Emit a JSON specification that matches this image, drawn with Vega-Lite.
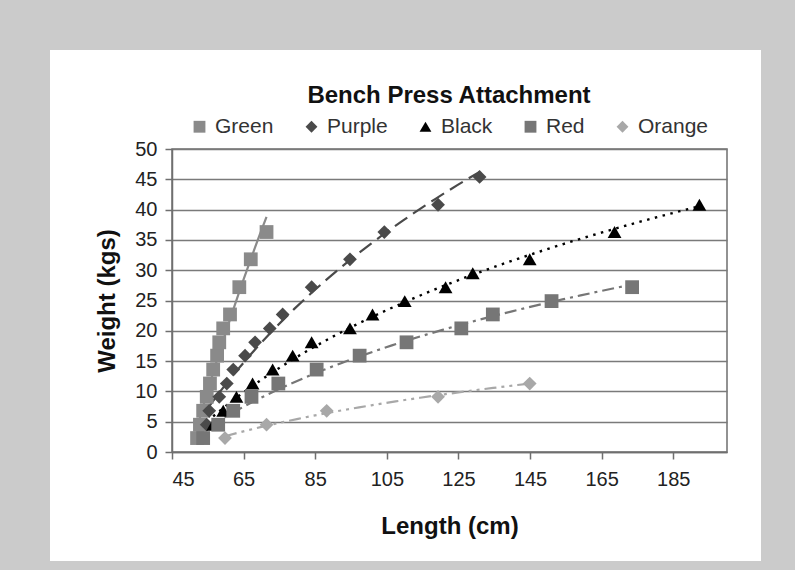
{
  "$schema": "https://vega.github.io/schema/vega-lite/v6.json",
  "width": 555,
  "height": 303,
  "autosize": {"type": "none"},
  "padding": {"left": 172, "top": 149, "right": 68, "bottom": 118},
  "background": "white",
  "config": {
    "font": "Liberation Sans",
    "view": {"stroke": "#6f6f6f", "strokeWidth": 1.5},
    "axis": {
      "labelFont": "Liberation Sans",
      "labelFontSize": 20,
      "labelColor": "#222222",
      "titleFont": "Liberation Sans",
      "titleFontSize": 24,
      "titleFontWeight": "bold",
      "titleColor": "#111111",
      "domainColor": "#6f6f6f",
      "domainWidth": 1.5,
      "tickColor": "#6f6f6f",
      "tickWidth": 1.5,
      "tickSize": 7,
      "labelPadding": 8
    },
    "legend": {
      "titleFont": "Liberation Sans",
      "labelFont": "Liberation Sans"
    }
  },
  "data": {
    "values": [
      {"series": "Green", "length": 52.0, "weight": 2.3},
      {"series": "Green", "length": 52.8, "weight": 4.5},
      {"series": "Green", "length": 53.7, "weight": 6.8},
      {"series": "Green", "length": 54.7, "weight": 9.1},
      {"series": "Green", "length": 55.6, "weight": 11.3},
      {"series": "Green", "length": 56.5, "weight": 13.6},
      {"series": "Green", "length": 57.6, "weight": 15.9},
      {"series": "Green", "length": 58.2, "weight": 18.1},
      {"series": "Green", "length": 59.3, "weight": 20.4},
      {"series": "Green", "length": 61.2, "weight": 22.7},
      {"series": "Green", "length": 63.8, "weight": 27.2},
      {"series": "Green", "length": 67.0, "weight": 31.8},
      {"series": "Green", "length": 71.4, "weight": 36.3},
      {"series": "Purple", "length": 54.7, "weight": 4.5},
      {"series": "Purple", "length": 55.4, "weight": 6.8},
      {"series": "Purple", "length": 58.2, "weight": 9.1},
      {"series": "Purple", "length": 60.3, "weight": 11.3},
      {"series": "Purple", "length": 62.1, "weight": 13.6},
      {"series": "Purple", "length": 65.4, "weight": 15.9},
      {"series": "Purple", "length": 68.2, "weight": 18.1},
      {"series": "Purple", "length": 72.3, "weight": 20.4},
      {"series": "Purple", "length": 75.9, "weight": 22.7},
      {"series": "Purple", "length": 84.0, "weight": 27.2},
      {"series": "Purple", "length": 94.7, "weight": 31.8},
      {"series": "Purple", "length": 104.3, "weight": 36.3},
      {"series": "Purple", "length": 119.3, "weight": 40.8},
      {"series": "Purple", "length": 130.9, "weight": 45.4},
      {"series": "Black", "length": 56.5, "weight": 4.5},
      {"series": "Black", "length": 59.3, "weight": 6.8},
      {"series": "Black", "length": 63.0, "weight": 9.1},
      {"series": "Black", "length": 67.5, "weight": 11.3},
      {"series": "Black", "length": 73.1, "weight": 13.6},
      {"series": "Black", "length": 78.7, "weight": 15.9},
      {"series": "Black", "length": 84.0, "weight": 18.1},
      {"series": "Black", "length": 94.7, "weight": 20.4},
      {"series": "Black", "length": 101.0, "weight": 22.7},
      {"series": "Black", "length": 110.0, "weight": 24.9},
      {"series": "Black", "length": 121.4, "weight": 27.2},
      {"series": "Black", "length": 129.0, "weight": 29.5},
      {"series": "Black", "length": 144.9, "weight": 31.8},
      {"series": "Black", "length": 168.6, "weight": 36.3},
      {"series": "Black", "length": 192.3, "weight": 40.8},
      {"series": "Red", "length": 53.7, "weight": 2.3},
      {"series": "Red", "length": 57.9, "weight": 4.5},
      {"series": "Red", "length": 62.1, "weight": 6.8},
      {"series": "Red", "length": 67.2, "weight": 9.1},
      {"series": "Red", "length": 74.7, "weight": 11.3},
      {"series": "Red", "length": 85.4, "weight": 13.6},
      {"series": "Red", "length": 97.4, "weight": 15.9},
      {"series": "Red", "length": 110.5, "weight": 18.1},
      {"series": "Red", "length": 125.8, "weight": 20.4},
      {"series": "Red", "length": 134.6, "weight": 22.7},
      {"series": "Red", "length": 151.0, "weight": 24.9},
      {"series": "Red", "length": 173.5, "weight": 27.2},
      {"series": "Orange", "length": 59.8, "weight": 2.3},
      {"series": "Orange", "length": 71.4, "weight": 4.5},
      {"series": "Orange", "length": 88.2, "weight": 6.8},
      {"series": "Orange", "length": 119.3, "weight": 9.1},
      {"series": "Orange", "length": 144.9, "weight": 11.3}
    ]
  },
  "encoding": {
    "x": {
      "field": "length",
      "type": "quantitative",
      "scale": {"domain": [45, 200], "nice": false, "zero": false},
      "axis": {
        "values": [45, 65, 85, 105, 125, 145, 165, 185],
        "grid": false,
        "title": "Length (cm)",
        "labelPadding": 10,
        "titlePadding": 25
      }
    },
    "y": {
      "field": "weight",
      "type": "quantitative",
      "scale": {"domain": [0, 50], "nice": false},
      "axis": {
        "values": [0, 5, 10, 15, 20, 25, 30, 35, 40, 45, 50],
        "grid": true,
        "gridColor": "#7a7a7a",
        "gridWidth": 1.5,
        "title": "Weight (kgs)",
        "titlePadding": 15
      }
    }
  },
  "layer": [
    {
      "transform": [
        {"filter": "datum.series === 'Green'"},
        {"regression": "weight", "on": "length", "method": "log"}
      ],
      "mark": {"type": "line", "strokeWidth": 2.2, "stroke": "#8a8a8a"},
      "encoding": {}
    },
    {
      "transform": [
        {"filter": "datum.series === 'Purple'"},
        {"regression": "weight", "on": "length", "method": "log"}
      ],
      "mark": {"type": "line", "strokeWidth": 2.2, "stroke": "#4a4a4a", "strokeDash": [15, 7]},
      "encoding": {}
    },
    {
      "transform": [
        {"filter": "datum.series === 'Black'"},
        {"regression": "weight", "on": "length", "method": "log"}
      ],
      "mark": {"type": "line", "strokeWidth": 2.4, "stroke": "#000000", "strokeDash": [2.5, 5.5]},
      "encoding": {}
    },
    {
      "transform": [
        {"filter": "datum.series === 'Red'"},
        {"regression": "weight", "on": "length", "method": "log"}
      ],
      "mark": {"type": "line", "strokeWidth": 2.2, "stroke": "#767676", "strokeDash": [12, 5, 3, 5]},
      "encoding": {}
    },
    {
      "transform": [
        {"filter": "datum.series === 'Orange'"},
        {"regression": "weight", "on": "length", "method": "log"}
      ],
      "mark": {"type": "line", "strokeWidth": 2.2, "stroke": "#a8a8a8", "strokeDash": [12, 5, 3, 5, 3, 5]},
      "encoding": {}
    },
    {
      "mark": {"type": "point", "filled": true, "opacity": 1, "strokeWidth": 0, "size": 190},
      "encoding": {
        "color": {
          "field": "series",
          "type": "nominal",
          "scale": {
            "domain": ["Green", "Purple", "Black", "Red", "Orange"],
            "range": ["#8a8a8a", "#4a4a4a", "#000000", "#767676", "#a8a8a8"]
          },
          "legend": {
            "title": "Bench Press Attachment",
            "orient": "none",
            "legendX": 17,
            "legendY": -65,
            "direction": "horizontal",
            "columns": 5,
            "titleAnchor": "middle",
            "titleFontSize": 24,
            "titleFontWeight": "bold",
            "titleColor": "#111111",
            "titleLimit": 700,
            "titlePadding": 8,
            "labelFontSize": 21,
            "labelColor": "#333333",
            "labelOffset": 5,
            "labelLimit": 200,
            "columnPadding": 27,
            "symbolSize": 140,
            "symbolStrokeWidth": 0,
            "padding": 0
          }
        },
        "shape": {
          "field": "series",
          "type": "nominal",
          "scale": {
            "domain": ["Green", "Purple", "Black", "Red", "Orange"],
            "range": ["square", "diamond", "triangle-up", "square", "diamond"]
          },
          "legend": {
            "title": "Bench Press Attachment",
            "orient": "none",
            "legendX": 17,
            "legendY": -65,
            "direction": "horizontal",
            "columns": 5
          }
        }
      }
    },
    {
      "mark": {"type": "rect", "fill": null, "stroke": "#cbcbcb", "strokeWidth": 120},
      "encoding": {
        "x": {"datum": -5.83},
        "x2": {"datum": 226.5},
        "y": {"datum": 76.24},
        "y2": {"datum": -27.9}
      }
    }
  ]
}
